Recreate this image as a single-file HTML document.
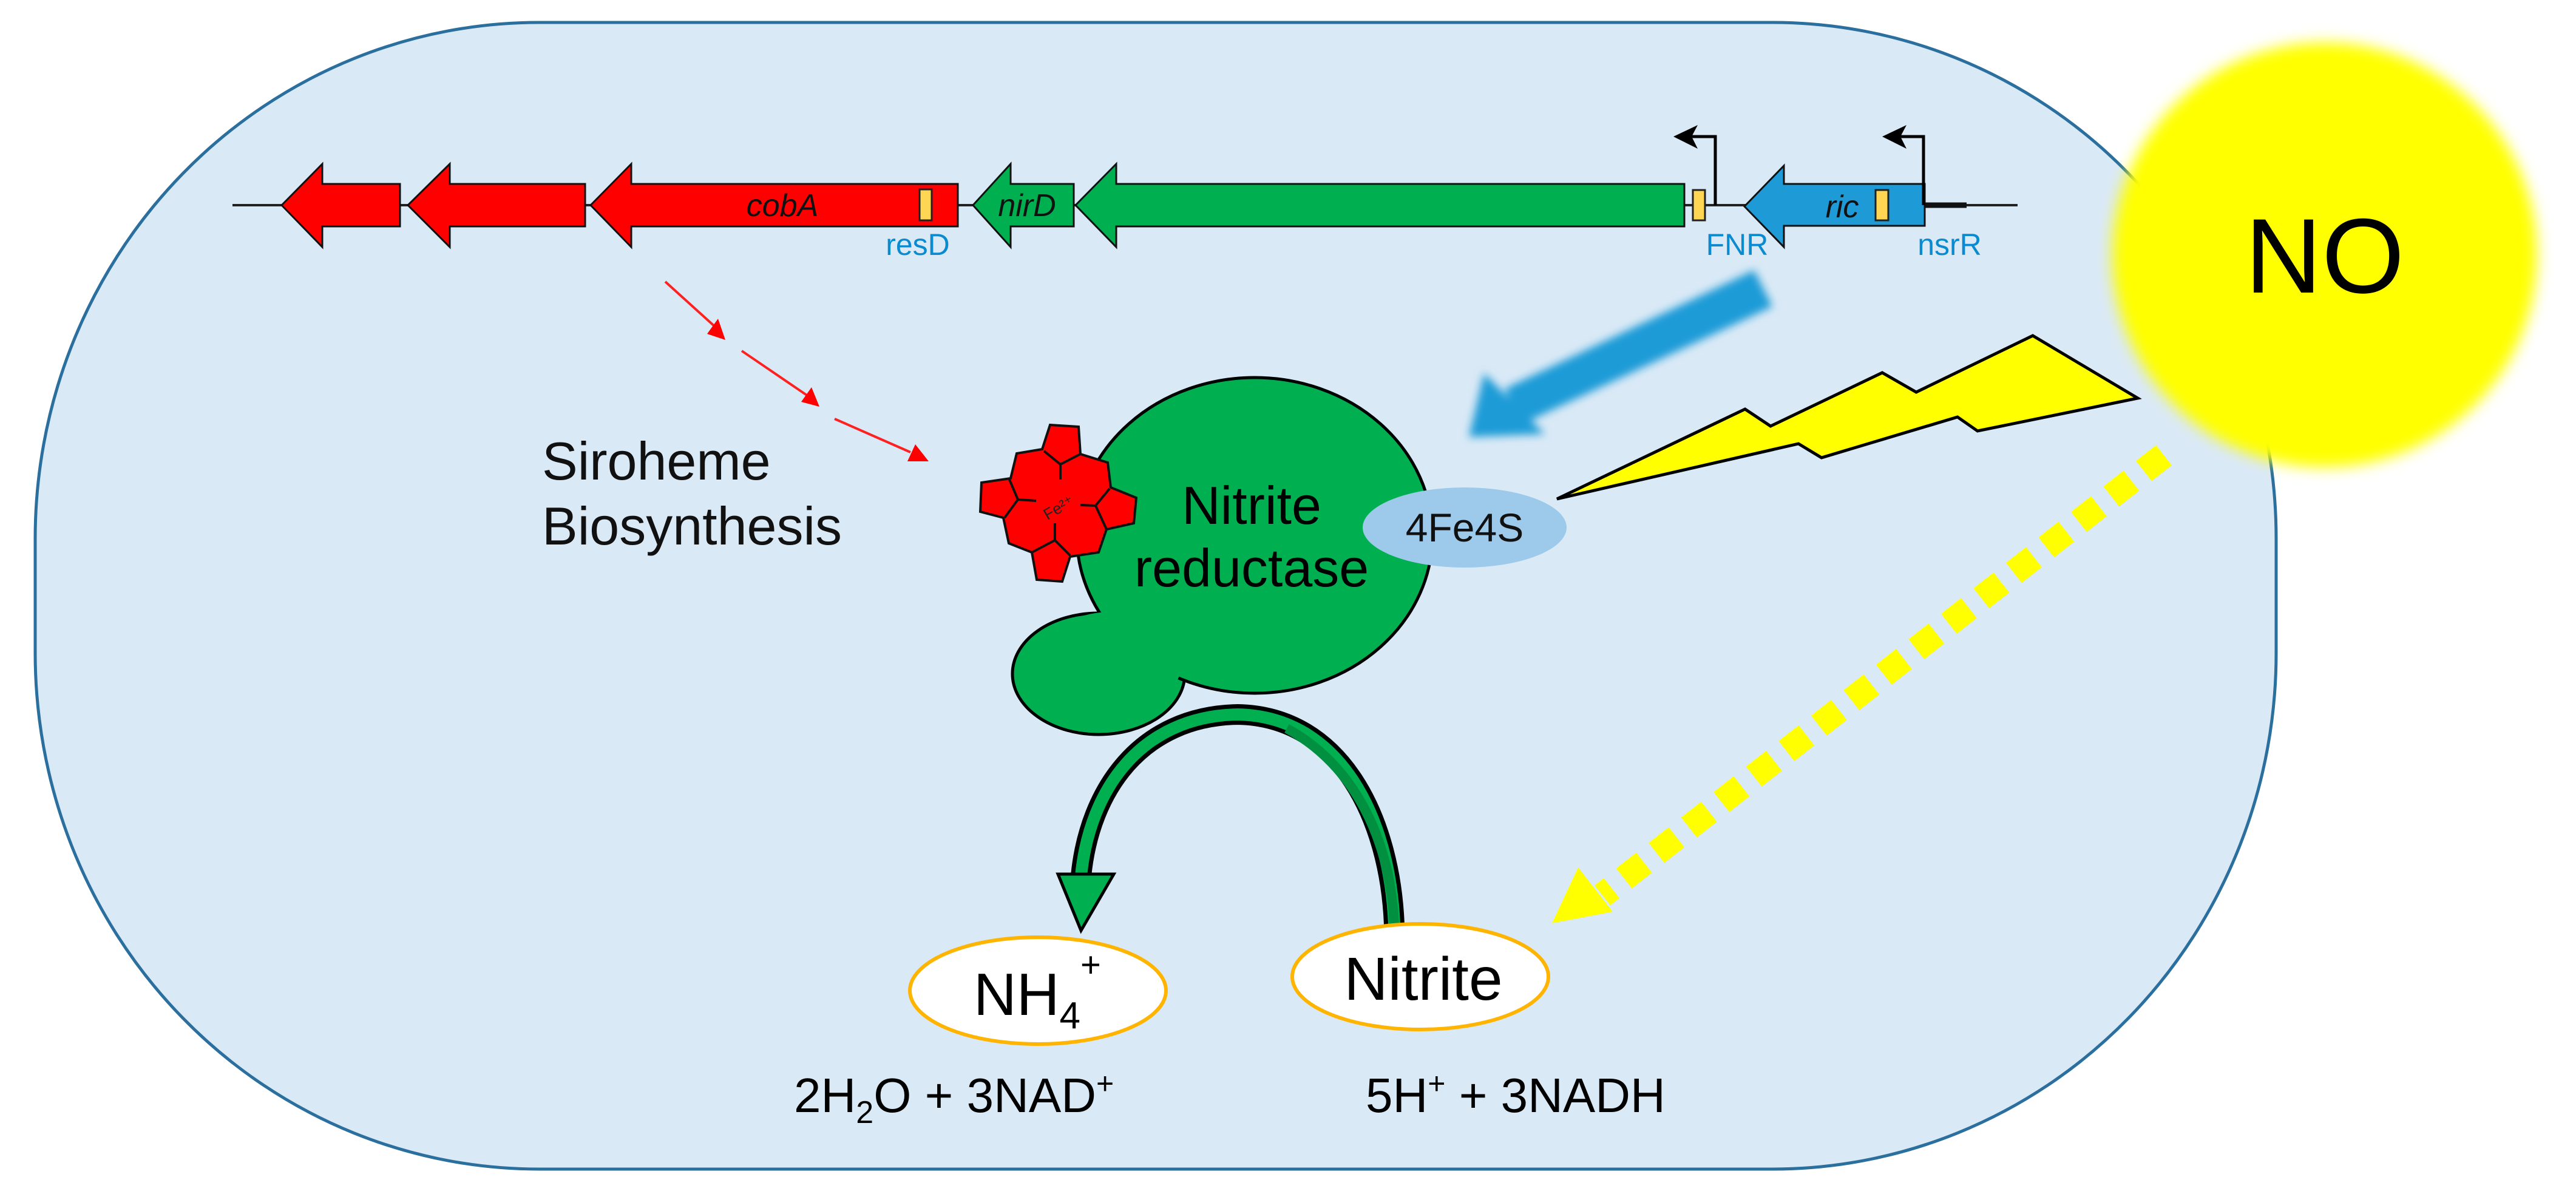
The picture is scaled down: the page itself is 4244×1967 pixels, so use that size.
<!DOCTYPE html>
<html><head><meta charset="utf-8"><style>
html,body{margin:0;padding:0;background:#fff;}
svg{display:block;}
text{font-family:"Liberation Sans",Arial,sans-serif;}
</style></head><body>
<svg width="4244" height="1967" viewBox="0 0 4244 1967" xmlns="http://www.w3.org/2000/svg">
<defs>
<filter id="b1" x="-30%" y="-30%" width="160%" height="160%"><feGaussianBlur stdDeviation="7"/></filter>
<filter id="b2" x="-30%" y="-30%" width="160%" height="160%"><feGaussianBlur stdDeviation="12"/></filter>
</defs>
<rect x="58" y="37" width="3692" height="1889" rx="830" ry="850" fill="#DAE9F6" stroke="#2A6F9E" stroke-width="5"/>

<line x1="383" y1="338" x2="3324" y2="338" stroke="#222" stroke-width="4"/>
<line x1="3171" y1="338" x2="3240" y2="338" stroke="#111" stroke-width="9"/>
<g stroke="#111" stroke-width="3" stroke-linejoin="miter">
<polygon points="464,338 531,270 531,303 659,303 659,373 531,373 531,407" fill="#FF0000"/>
<polygon points="672,338 741,270 741,303 964,303 964,373 741,373 741,407" fill="#FF0000"/>
<polygon points="973,338 1040,270 1040,303 1578,303 1578,373 1040,373 1040,407" fill="#FF0000"/>
<polygon points="1603,338 1665,270 1665,303 1769,303 1769,373 1665,373 1665,407" fill="#00B050"/>
<polygon points="1772,338 1839,270 1839,303 2775,303 2775,373 1839,373 1839,407" fill="#00B050"/>
<polygon points="2874,340 2939,273 2939,303 3171,303 3171,372 2939,372 2939,407" fill="#1E9BD7"/>
</g>
<g fill="#FFD653" stroke="#222" stroke-width="3">
<rect x="1515" y="312" width="20" height="51"/>
<rect x="2789" y="313" width="20" height="50"/>
<rect x="3090" y="313" width="21" height="50"/>
</g>
<g fill="none" stroke="#000" stroke-width="5">
<polyline points="2826,338 2826,225 2775,225"/>
<polyline points="3169,338 3169,225 3118,225"/>
</g>
<polygon points="2757,225 2797,206 2787,225 2797,245" fill="#000"/>
<polygon points="3101,225 3141,206 3131,225 3141,245" fill="#000"/>
<g font-style="italic" font-size="52" fill="#111" text-anchor="middle">
<text x="1289" y="356">cobA</text>
<text x="1692" y="356">nirD</text>
<text x="3035" y="358">ric</text>
</g>
<g font-size="50" fill="#0A8BD0" text-anchor="middle">
<text x="1512" y="420">resD</text>
<text x="2862" y="420">FNR</text>
<text x="3212" y="420">nsrR</text>
</g>

<g stroke="#FF2020" stroke-width="4">
<line x1="1096" y1="464" x2="1180" y2="540"/>
<line x1="1222" y1="578" x2="1335" y2="655"/>
<line x1="1375" y1="690" x2="1500" y2="745"/>
</g>
<g fill="#FF0000">
<polygon points="1195,560 1165,550 1183,525"/>
<polygon points="1350,670 1320,662 1337,638"/>
<polygon points="1530,760 1495,760 1508,732"/>
</g>
<text font-size="88" fill="#111"><tspan x="893" y="790">Siroheme</tspan><tspan x="893" y="897">Biosynthesis</tspan></text>

<ellipse cx="1810" cy="1110" rx="142" ry="100" fill="#00B050" stroke="#000" stroke-width="5"/>
<ellipse cx="2067" cy="882" rx="293" ry="260" fill="#00B050" stroke="#000" stroke-width="5"/>
<ellipse cx="1830" cy="1090" rx="118" ry="82" fill="#00B050"/>
<ellipse cx="1880" cy="1045" rx="70" ry="50" fill="#00B050"/>
<text font-size="88" fill="#000" text-anchor="middle"><tspan x="2062" y="863">Nitrite</tspan><tspan x="2062" y="966">reductase</tspan></text>

<polygon points="1730,700 1777,703 1780,748 1825,762 1830,803 1872,820 1868,862 1823,872 1810,910 1763,917 1750,958 1708,955 1700,910 1662,895 1653,853 1615,843 1617,795 1665,788 1675,747 1717,740" fill="#FF0000" stroke="#111" stroke-width="4" stroke-linejoin="miter"/>
<g stroke="#111" stroke-width="4" fill="none">
<polyline points="1720,743 1747,765 1780,748"/><line x1="1747" y1="765" x2="1747" y2="790"/>
<polyline points="1663,790 1677,823 1655,853"/><line x1="1677" y1="823" x2="1707" y2="825"/>
<polyline points="1828,805 1805,833 1823,872"/><line x1="1805" y1="833" x2="1780" y2="832"/>
<polyline points="1700,910 1738,890 1763,915"/><line x1="1738" y1="890" x2="1738" y2="862"/>
</g>
<text x="1745" y="845" font-size="26" fill="#222" text-anchor="middle" transform="rotate(-30 1745 838)">Fe²⁺</text>

<ellipse cx="2413" cy="869" rx="168" ry="66" fill="#9DC9EA"/>
<text x="2413" y="892" font-size="66" fill="#111" text-anchor="middle">4Fe4S</text>

<g filter="url(#b1)" fill="#1E9BD7">
<polygon points="2890,445 2920,505 2505,700 2480,640"/>
<polygon points="2420,720 2445,615 2545,715"/>
</g>

<polygon points="2565,822 2875,674 2917,702 3101,614 3157,646 3349,553 3522,656 3258,710 3225,687 3001,754 2963,731" fill="#FFFF00" stroke="#000" stroke-width="5" stroke-linejoin="miter"/>

<circle cx="3830" cy="420" r="350" fill="#FFFF00" filter="url(#b2)"/>
<text x="3830" y="482" font-size="175" fill="#000" text-anchor="middle">NO</text>

<line x1="3565" y1="750" x2="2640" y2="1475" stroke="#FFFF00" stroke-width="42" stroke-dasharray="42 26"/>
<polygon points="2557,1521 2600,1429 2657,1502" fill="#FFFF00"/>

<path d="M1781,1443 C1795,1300 1880,1180 2039,1177 C2210,1180 2290,1350 2297,1523" fill="none" stroke="#000" stroke-width="34"/>
<path d="M1781,1443 C1795,1300 1880,1180 2039,1177 C2210,1180 2290,1350 2297,1523" fill="none" stroke="#00B050" stroke-width="20"/>
<path d="M2120,1200 C2230,1260 2290,1380 2297,1523" fill="none" stroke="#009040" stroke-width="16"/>
<polygon points="1743,1440 1835,1440 1781,1533" fill="#00B050" stroke="#000" stroke-width="5" stroke-linejoin="miter"/>

<ellipse cx="1710" cy="1632" rx="211" ry="88" fill="#fff" stroke="#FFB400" stroke-width="6"/>
<ellipse cx="2340" cy="1609" rx="211" ry="87" fill="#fff" stroke="#FFB400" stroke-width="6"/>
<text x="1604" y="1672" font-size="98" fill="#000">NH<tspan font-size="62" dy="22">4</tspan><tspan font-size="58" dy="-85">+</tspan></text>
<text x="2345" y="1647" font-size="100" fill="#000" text-anchor="middle">Nitrite</text>

<text x="1308" y="1832" font-size="80" fill="#000">2H<tspan font-size="52" dy="18">2</tspan><tspan dy="-18">O + 3NAD</tspan><tspan font-size="50" dy="-30">+</tspan></text>
<text x="2250" y="1832" font-size="80" fill="#000">5H<tspan font-size="50" dy="-30">+</tspan><tspan dy="30"> + 3NADH</tspan></text>
</svg>
</body></html>
